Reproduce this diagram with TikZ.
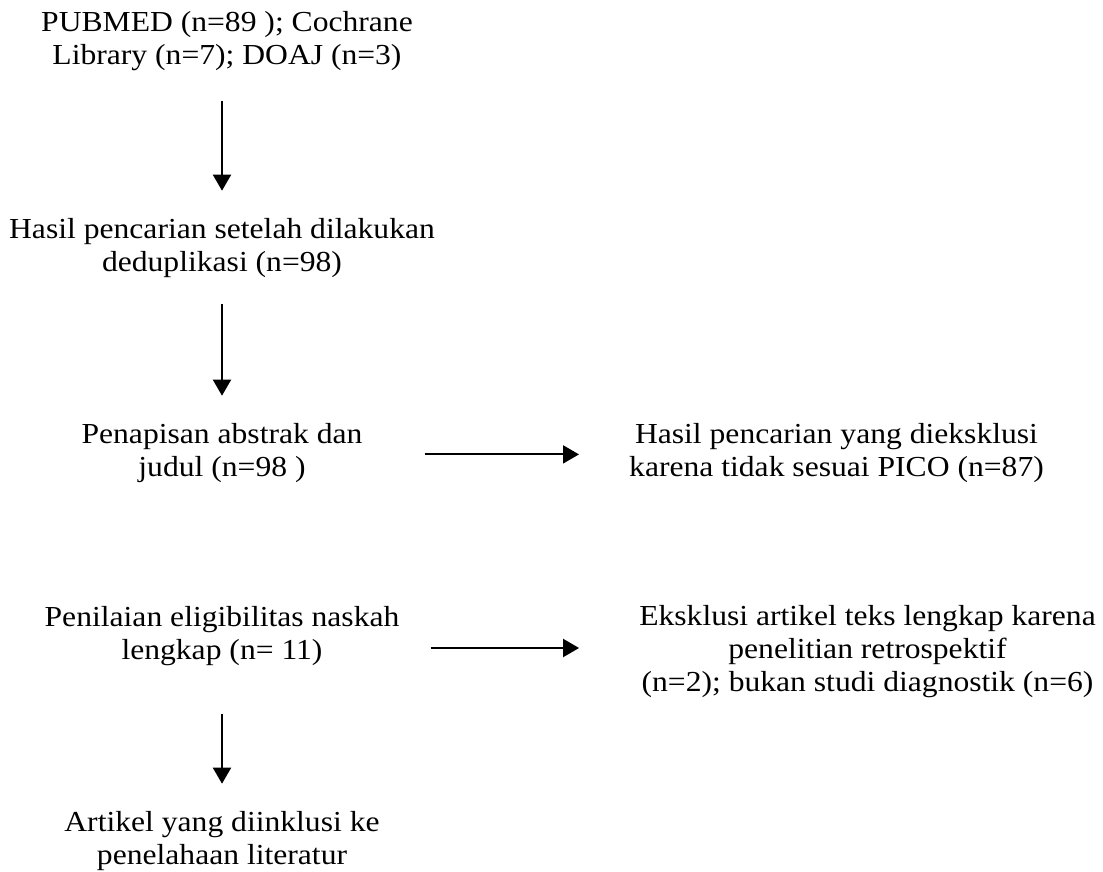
\documentclass[tikz,border=0pt]{standalone}
\usepackage{fontspec}
\setmainfont{Liberation Serif}[FakeStretch=1.09]
\usepackage{tikz}
\usetikzlibrary{arrows.meta}
\usetikzlibrary{positioning}
\tikzset{
  stage/.style={align=center, inner sep=0pt, font=\fontsize{29}{33}\selectfont,
    execute at begin node=\strut, execute at end node=\strut},
  flow/.style={line width=2pt, -{Triangle[width=18pt,length=16pt]}}
}

\begin{document}
\begin{tikzpicture}[x=1pt,y=-1pt]
        \useasboundingbox (0,0) rectangle (1103,872);

        % column left
        \node[stage] (search) at (227,43) {PUBMED (n=89 ); Cochrane\\Library (n=7); DOAJ (n=3)};
        \node[stage] (dedup) at (222,249.4) {Hasil pencarian setelah dilakukan\\deduplikasi (n=98)};
        \node[stage] (screen) at (222,454.4) {Penapisan abstrak dan\\judul (n=98 )};
        \node[stage] (fulltext) at (222,638) {Penilaian eligibilitas naskah\\lengkap (n= 11)};
        \node[stage] (included) at (222,842.4) {Artikel yang diinklusi ke\\penelahaan literatur};

        % column right
        \node[stage] (picoout) at (836.5,454.4) {Hasil pencarian yang dieksklusi\\karena tidak sesuai PICO (n=87)};
        \node[stage] (fullout) at (867.5,653.4) {Eksklusi artikel teks lengkap karena\\penelitian retrospektif\\(n=2); bukan studi diagnostik (n=6)};

        % arrows
        \draw[flow, shorten <=26pt, shorten >=27pt] (search.south -| dedup.north) -- (dedup.north);
        \draw[flow, shorten <=23pt, shorten >=27pt] (dedup.south) -- (screen.north);
        \draw[flow, shorten <=62pt, shorten >=50pt] (screen.east) -- (picoout.west);
        \draw[flow, shorten <=31pt, shorten >=60pt] ([yshift=-10pt]fulltext.east) -- ([yshift=-10pt]fulltext.east -| fullout.west);
        \draw[flow, shorten <=44pt, shorten >=27pt] (fulltext.south) -- (included.north);
\end{tikzpicture}
\end{document}
